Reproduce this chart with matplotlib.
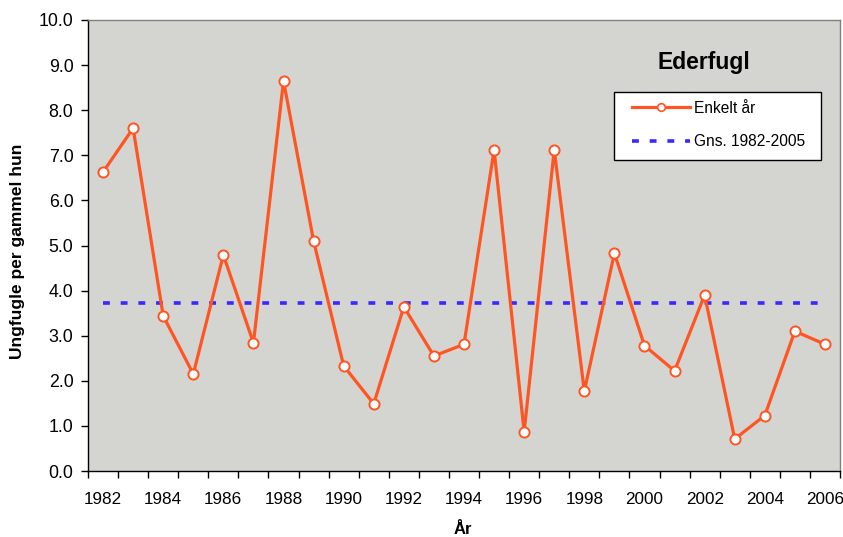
import matplotlib
matplotlib.use("Agg")
import matplotlib.pyplot as plt
from matplotlib.patches import Rectangle
import numpy as np

plt.rcParams['font.family'] = ['Liberation Sans', 'DejaVu Sans']

years = list(range(1982, 2007))
values = [6.63, 7.60, 3.44, 2.15, 4.79, 2.84, 8.65, 5.10, 2.33, 1.49,
          3.64, 2.55, 2.81, 7.12, 0.87, 7.12, 1.77, 4.83, 2.78, 2.22,
          3.90, 0.71, 1.23, 3.10, 2.81]
mean_value = 3.73
title = "Ederfugl"
series_label = "Enkelt år"
mean_label = "Gns. 1982-2005"
xlabel = "År"
ylabel = "Ungfugle per gammel hun"

W, H = 843, 537
L, R, T, B = 88, 840, 20, 471

fig = plt.figure(figsize=(W/100, H/100), dpi=100)
ax = fig.add_axes([L/W, 1 - B/H, (R-L)/W, (B-T)/H])
ax.set_facecolor('#D4D5D0')

def ax_xy(px, py):
    return ((px - L)/(R - L), (B - py)/(B - T))

orange = '#FF5522'
x = np.arange(len(years))
ax.plot(x, values, color=orange, lw=2.3, marker='o', ms=7.3,
        mfc='white', mec=orange, mew=1.4, label=series_label, zorder=3)
ax.plot([x[0], x[-1]], [mean_value, mean_value], color='#3A28FF', lw=2.6,
        dashes=(1.9, 3.0), label=mean_label, zorder=2)

ax.set_xlim(-0.5, len(years) - 0.5)
ax.set_ylim(0, 10)
yt = np.arange(0, 10.01, 1.0)
ax.set_yticks(yt)
ax.set_yticklabels([f"{v:.1f}" for v in yt], fontsize=12.8)
ax.set_xticks(np.arange(-0.5, len(years), 1.0))
ax.set_xticklabels([])
ax.set_xticks(x[::2], minor=True)
ax.set_xticklabels([str(y) for y in years[::2]], minor=True, fontsize=12.3)
ax.tick_params(axis='x', which='minor', length=0, pad=15)
ax.tick_params(axis='x', which='major', length=5, direction='out', width=1)
ax.tick_params(axis='y', length=5, direction='out', width=1, pad=5.5)

for s in ['left', 'bottom']:
    ax.spines[s].set_color('black')
    ax.spines[s].set_linewidth(1.0)
for s in ['top', 'right']:
    ax.spines[s].set_color('#808080')
    ax.spines[s].set_linewidth(1.0)

fig.text(463/W, 1 - 534/H, xlabel, fontsize=12, fontweight='bold',
         ha='center', va='baseline')
fig.text(17.5/W, 1 - 251.5/H, ylabel, fontsize=12.5, fontweight='bold',
         ha='center', va='center', rotation=90)

tx, ty = ax_xy(704, 63)
ax.text(tx, ty, title, transform=ax.transAxes, fontsize=16.5,
        fontweight='bold', ha='center', va='center')

# legend box
x0, y0 = ax_xy(614, 160)
x1, y1 = ax_xy(821, 92)
ax.add_patch(Rectangle((x0, y0), x1 - x0, y1 - y0, transform=ax.transAxes,
                       facecolor='white', edgecolor='black', lw=1.0, zorder=5))

lx, ly = ax_xy(632, 125)
leg = ax.legend(loc='center left', bbox_to_anchor=(lx, ly),
                frameon=False, fontsize=11.2, handlelength=3.7,
                borderpad=0, labelspacing=1.22, handletextpad=0.3,
                borderaxespad=0)
leg.set_zorder(6)
for h in leg.legend_handles:
    if h.get_marker() == 'o':
        h.set_markevery([1])
        h.set_markersize(5.5)
        h.set_markeredgewidth(1.2)

fig.savefig('out.png', dpi=100)
